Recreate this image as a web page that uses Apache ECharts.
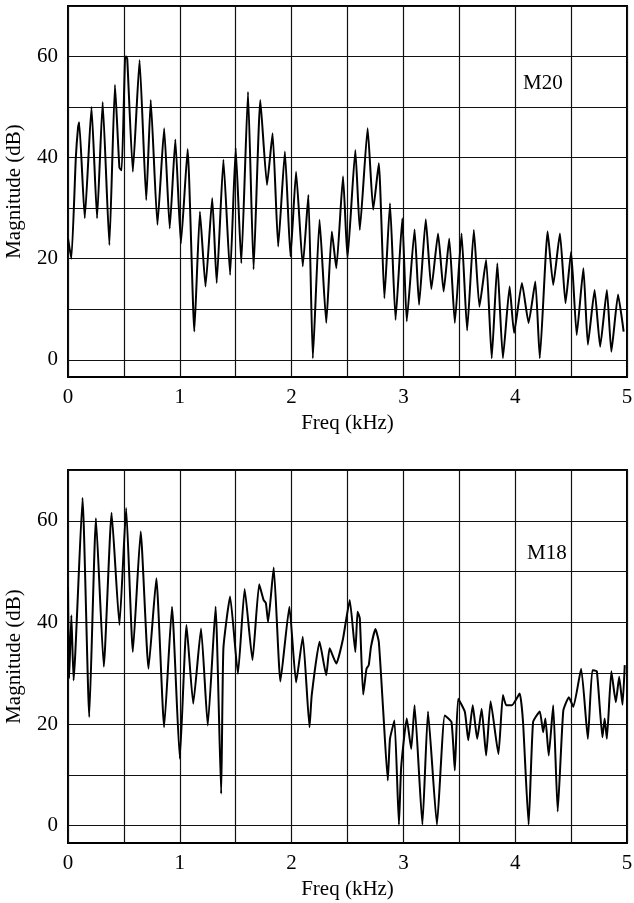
<!DOCTYPE html>
<html>
<head>
<meta charset="utf-8">
<script src="https://cdn.jsdelivr.net/npm/echarts@6/dist/echarts.min.js"></script>
<style>
html,body{margin:0;padding:0;background:#fff;}
#chart{width:634px;height:903px;}
</style>
</head>
<body>
<div id="chart"></div>
<script>
// ---- Data ----
const xLabelValues = [0, 1, 2, 3, 4, 5];
const yLabelValues = [0, 20, 40, 60];
const yGridValues = [0, 10, 20, 30, 40, 50, 60, 70];

const m20Freq = [0.00,0.03,0.07,0.09,0.10,0.15,0.21,0.26,0.31,0.37,0.42,0.46,0.48,0.51,0.52,0.53,0.58,0.64,0.70,0.74,0.80,0.86,0.91,0.96,1.01,1.07,1.13,1.18,1.23,1.29,1.33,1.39,1.45,1.50,1.55,1.61,1.66,1.72,1.78,1.83,1.88,1.94,1.99,2.04,2.10,2.15,2.19,2.25,2.31,2.36,2.40,2.46,2.50,2.57,2.61,2.68,2.73,2.78,2.83,2.88,2.93,2.99,3.03,3.10,3.14,3.20,3.25,3.31,3.36,3.41,3.46,3.52,3.57,3.63,3.68,3.74,3.79,3.84,3.89,3.95,3.99,4.06,4.12,4.18,4.22,4.29,4.34,4.40,4.45,4.50,4.55,4.61,4.65,4.71,4.76,4.82,4.86,4.92,4.97];
const m20Mag = [24,20,40,46,47,28,50,28,51,22.7,54.4,38,37.5,59.7,60,59.5,37.2,59.3,31.6,51.4,26.7,45.8,26,43.6,23,41.7,5.6,29.3,14.5,32,15.2,39.6,16.8,41.9,19.1,53,17.9,51.4,34.6,44.8,22.4,41.2,20.4,37.2,18.5,32.6,0.3,27.7,7.3,25.4,18.1,36.3,20.1,41.5,25.7,45.8,29.7,38.9,12.2,31,7.9,28,7.6,25.8,10.9,27.8,14,25,13.5,24,7.3,25,5.8,25.7,10.5,19.8,0.3,19.1,0.3,14.5,5.3,15.2,7.3,15.5,0.3,25.4,14.8,25,11.2,21.4,4.9,18.1,3,13.8,2.6,13.8,1.6,12.9,5.6];

const m18Freq = [0.00,0.01,0.03,0.05,0.13,0.19,0.25,0.32,0.39,0.46,0.52,0.58,0.65,0.72,0.79,0.86,0.93,1.00,1.06,1.12,1.19,1.25,1.32,1.37,1.39,1.45,1.52,1.58,1.65,1.71,1.75,1.77,1.79,1.84,1.90,1.98,2.04,2.10,2.16,2.18,2.25,2.31,2.34,2.40,2.46,2.52,2.57,2.59,2.61,2.64,2.67,2.69,2.71,2.75,2.78,2.82,2.86,2.88,2.92,2.96,2.98,3.03,3.07,3.10,3.17,3.22,3.30,3.37,3.43,3.46,3.49,3.55,3.58,3.62,3.66,3.70,3.74,3.78,3.85,3.89,3.92,3.97,4.04,4.07,4.12,4.16,4.22,4.25,4.27,4.30,4.34,4.38,4.43,4.48,4.52,4.59,4.65,4.69,4.73,4.78,4.80,4.82,4.86,4.90,4.93,4.96,4.98];
const m18Mag = [47,29,41.4,28.6,64.5,21.4,60.5,31.3,61.6,39.5,62.5,34.2,57.9,30.9,48.7,19.4,43.1,13.2,39.5,24,38.8,19.7,43.1,6.3,34.9,45.1,29.9,46.6,32.6,47.5,44.4,43.8,40.1,50.8,28.4,43.1,28.2,37.2,19.4,25.7,36.2,29.6,34.9,31.9,36.8,44.4,34.2,42.1,40.8,25.8,30.9,31.6,35.2,38.7,36.2,22.4,8.9,17.1,20.7,0.2,11.5,21.1,15.1,23.7,0.2,22.5,0.2,21.7,20.4,10.9,25,22.4,16.8,23.7,17.1,23,13.8,24.5,14.1,25.7,23.7,23.7,26,20.4,0.2,20.4,22.5,18.4,21.1,13.8,23.7,2.8,22.6,25.3,23.4,30.9,17.1,30.6,30.4,17.4,21.1,17.1,30.4,24.3,29.3,23.8,31.6];

const panelLabels = ['M20', 'M18'];
const xName = 'Freq (kHz)';
const yName = 'Magnitude (dB)';

// ---- Chart ----
const FONT = 'Liberation Serif';
const FS = 21;
function pairs(xs, ys) { return xs.map((x, i) => [x, ys[i]]); }

function xAxisCfg(idx) {
  return {
    gridIndex: idx, type: 'value', min: 0, max: 5, interval: 0.5,
    axisLine: { show: false }, axisTick: { show: false },
    splitLine: { show: true, lineStyle: { color: '#111', width: 1.2 } },
    axisLabel: { customValues: xLabelValues, color: '#000', fontFamily: FONT, fontSize: FS, margin: 10 },
    name: xName, nameLocation: 'middle', nameGap: 36,
    nameTextStyle: { color: '#000', fontFamily: FONT, fontSize: FS }
  };
}
function yAxisCfg(idx) {
  return {
    gridIndex: idx, type: 'value', min: -3.4, max: 70,
    axisLine: { show: false },
    axisTick: { show: false, customValues: yGridValues },
    splitLine: { show: true, lineStyle: { color: '#111', width: 1.2 } },
    axisLabel: { customValues: yLabelValues, color: '#000', fontFamily: FONT, fontSize: FS, margin: 10 },
    name: yName, nameLocation: 'middle', nameGap: 43,
    nameTextStyle: { color: '#000', fontFamily: FONT, fontSize: FS }
  };
}
function lineSeries(idx, xs, ys) {
  return {
    type: 'line', xAxisIndex: idx, yAxisIndex: idx, data: pairs(xs, ys),
    showSymbol: false, symbol: 'none', clip: true, animation: false,
    smooth: 0.15,
    lineStyle: { color: '#000', width: 2 }
  };
}

const chart = echarts.init(document.getElementById('chart'), null, { renderer: 'canvas' });
chart.setOption({
  animation: false,
  backgroundColor: '#fff',
  grid: [
    { left: 68, top: 6, width: 559, height: 371, show: true, borderColor: '#000', borderWidth: 2, backgroundColor: 'transparent', containLabel: false, outerBoundsMode: 'none' },
    { left: 68, top: 470, width: 559, height: 373, show: true, borderColor: '#000', borderWidth: 2, backgroundColor: 'transparent', containLabel: false, outerBoundsMode: 'none' }
  ],
  xAxis: [xAxisCfg(0), xAxisCfg(1)],
  yAxis: [yAxisCfg(0), yAxisCfg(1)],
  series: [lineSeries(0, m20Freq, m20Mag), lineSeries(1, m18Freq, m18Mag)],
  graphic: [
    { type: 'text', left: 523, top: 73, style: { text: panelLabels[0], font: FS + 'px "' + FONT + '"', fill: '#000' } },
    { type: 'text', left: 527, top: 543, style: { text: panelLabels[1], font: FS + 'px "' + FONT + '"', fill: '#000' } }
  ]
});
</script>
</body>
</html>
